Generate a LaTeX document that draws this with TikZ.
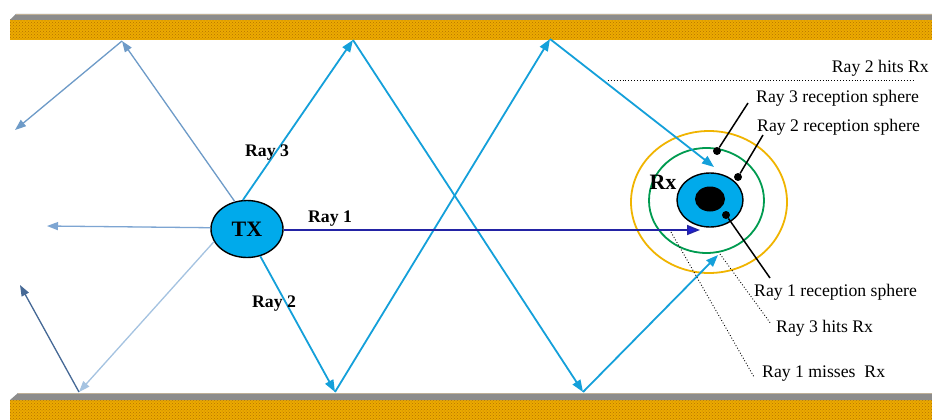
\documentclass[tikz,border=0pt]{standalone}
\usepackage{fontspec}
\setmainfont{Liberation Serif}
\usetikzlibrary{arrows.meta,shapes.geometric,patterns}
\definecolor{raycyan}{RGB}{20,160,218}
\definecolor{rayone}{RGB}{35,35,165}
\definecolor{rayonetip}{RGB}{30,30,215}
\definecolor{steelA}{RGB}{110,155,200}
\definecolor{steelB}{RGB}{125,165,210}
\definecolor{steelC}{RGB}{165,195,225}
\definecolor{steelD}{RGB}{70,105,150}
\definecolor{bodyblue}{RGB}{0,170,235}
\definecolor{ringgreen}{RGB}{0,155,80}
\definecolor{ringorange}{RGB}{240,180,0}
\definecolor{wallorange}{RGB}{236,170,0}
\definecolor{walldark}{RGB}{180,115,0}
\definecolor{wallgray}{RGB}{140,140,140}
\definecolor{walledge}{RGB}{190,175,150}
\begin{document}
\begin{tikzpicture}[x=1pt,y=-1pt,
  cyanray/.style={line width=1.8pt,draw=raycyan,-{Triangle[length=12pt,width=9pt,fill=raycyan]}},
  lightray/.style={line width=1.3pt,-{Triangle[length=11pt,width=8pt]}},
  body/.style={ellipse,draw=black,line width=1.4pt,fill=bodyblue,inner sep=0pt},
  ring/.style={ellipse,line width=1.8pt,inner sep=0pt},
  dotmark/.style={circle,fill=black,inner sep=0pt,minimum size=8pt},
  leader/.style={line width=1.5pt,draw=black},
  dotleader/.style={line width=0.9pt,draw=black,dotted},
  lbl/.style={font=\fontsize{17.7}{20}\selectfont,inner sep=0pt},
  raylbl/.style={font=\fontsize{17.7}{20}\selectfont\bfseries,inner sep=0pt}]
\useasboundingbox (0,0) rectangle (932,420);
\fill[white] (0,0) rectangle (932,420);
% walls
\fill[wallorange] (10,20) rectangle (932,40);
\fill[pattern=crosshatch dots,pattern color=walldark] (10,20) rectangle (932,40);
\fill[wallgray] (10,20) -- (16,14) -- (932,14) -- (932,20) -- cycle;
\draw[walledge,line width=0.8pt] (16,14) -- (932,14);
\fill[wallorange] (10,400) rectangle (932,420);
\fill[pattern=crosshatch dots,pattern color=walldark] (10,400) rectangle (932,420);
\fill[wallgray] (10,400) -- (18,393) -- (932,393) -- (932,400) -- cycle;
\draw[walledge,line width=0.8pt] (18,393) -- (932,393);
% receiver rings
\node[ring,draw=ringorange,minimum width=156pt,minimum height=142pt] (orng) at (709,202) {};
\node[ring,draw=ringgreen,minimum width=115pt,minimum height=105pt] (grng) at (706.5,200.5) {};
\node[body,minimum width=66pt,minimum height=54pt] (rx) at (710,200) {};
\node[ellipse,fill=black,inner sep=0pt,minimum width=30pt,minimum height=25pt] (rxcore) at (710,199) {};
\node[font=\fontsize{22}{24}\selectfont\bfseries,inner sep=0pt] (rxlbl) at (663,182) {Rx};
% transmitter
\node[body,minimum width=72pt,minimum height=57pt,font=\fontsize{22}{24}\selectfont\bfseries] (tx) at (247,229) {TX};
% bounce points and tips
\coordinate (t0) at (122,41);
\coordinate (t1) at (353,40);
\coordinate (t2) at (550,39);
\coordinate (b0) at (79,392);
\coordinate (b1) at (335,392);
\coordinate (b2) at (583,392);
\coordinate (l1) at (15,130);
\coordinate (l2) at (47,226);
\coordinate (l4) at (20,285);
\coordinate (r1) at (700,230);
\coordinate (r2) at (714,167);
\coordinate (r3) at (718,255);
% left rays
\draw[lightray,draw=steelA,fill=steelA] (tx.114) -- (t0);
\draw[lightray,draw=steelA,fill=steelA] (t0) -- (l1);
\draw[lightray,draw=steelB,fill=steelB] (tx.178) -- (l2);
\draw[lightray,draw=steelC,fill=steelC] (tx.201) -- (b0);
\draw[lightray,draw=steelD,fill=steelD] (b0) -- (l4);
% ray 3
\draw[cyanray] (tx.98) -- (t1);
\draw[cyanray] (t1) -- (b2);
\draw[cyanray] (b2) -- (r3);
% ray 2
\draw[cyanray] (tx.296) -- (b1);
\draw[cyanray] (b1) -- (t2);
\draw[cyanray] (t2) -- (r2);
% ray 1
\draw[line width=1.6pt,draw=rayone,-{Triangle[length=13pt,width=10pt,fill=rayonetip]}] (tx.east |- r1) -- (r1);
% ray labels
\node[raylbl] (lr3) at (267,153) {Ray 3};
\node[raylbl] (lr1) at (330,219) {Ray 1};
\node[raylbl] (lr2) at (274,304) {Ray 2};
% reception sphere labels
\node[dotmark] (d3) at (717,151) {};
\node[dotmark] (d2) at (738,177) {};
\node[dotmark] (d1) at (726,215) {};
\node[lbl,anchor=west] (s3) at (756,98) {Ray 3 reception sphere};
\node[lbl,anchor=west] (s2) at (757,127) {Ray 2 reception sphere};
\node[lbl,anchor=west] (s1) at (754,292) {Ray 1 reception sphere};
\coordinate (e3) at (748,103);
\coordinate (e2) at (763,135);
\coordinate (e1) at (770,278);
\draw[leader] (d3) -- (e3);
\draw[leader] (d2) -- (e2);
\draw[leader] (d1) -- (e1);
% hit / miss labels
\node[lbl,anchor=east] (h2) at (929,68) {Ray 2 hits Rx};
\node[lbl,anchor=west] (h3) at (776,328) {Ray 3 hits Rx};
\node[lbl,anchor=west] (m1) at (762,374) {Ray 1 misses\ \ Rx};
\coordinate (h2a) at (608,80);
\coordinate (h2b) at (915,80);
\coordinate (h3a) at (720,254);
\coordinate (h3b) at (771,324);
\coordinate (m1a) at (671,232);
\coordinate (m1b) at (754,377);
\draw[dotleader] (h2a) -- (h2b);
\draw[dotleader] (h3a) -- (h3b);
\draw[dotleader] (m1a) -- (m1b);
\end{tikzpicture}
\end{document}
